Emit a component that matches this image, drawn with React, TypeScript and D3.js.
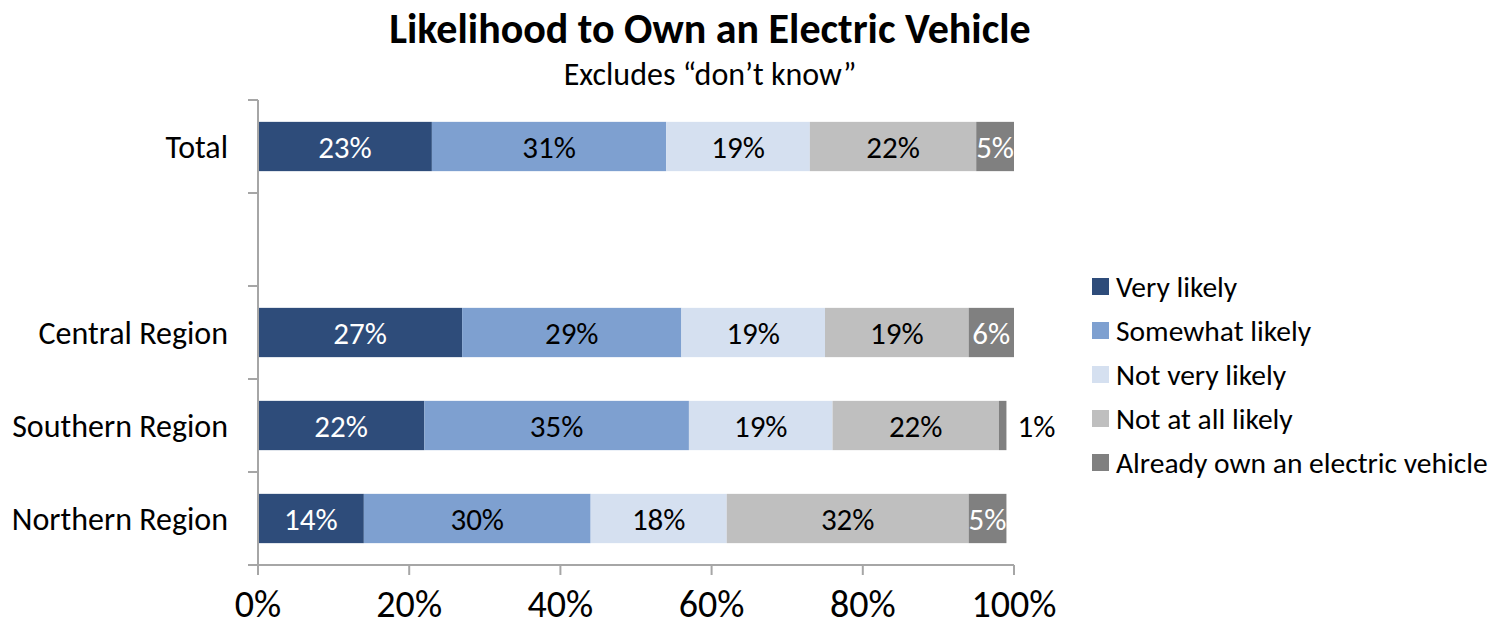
import React from "react";
import * as d3 from "d3";

const categories = ["Total", "", "Central Region", "Southern Region", "Northern Region"];
const seriesNames = ["Very likely", "Somewhat likely", "Not very likely", "Not at all likely", "Already own an electric vehicle"];
const veryLikely = [23, null, 27, 22, 14];
const somewhatLikely = [31, null, 29, 35, 30];
const notVeryLikely = [19, null, 19, 19, 18];
const notAtAllLikely = [22, null, 19, 22, 32];
const alreadyOwn = [5, null, 6, 1, 5];
const xTicks = [0, 20, 40, 60, 80, 100];

const colors = ["#2E4C7A", "#7EA0D0", "#D5E0F0", "#BFBFBF", "#808080"];
const labelColors = ["#fff", "#000", "#000", "#000", "#fff"];
const FONT = "Carlito, Calibri, Lato, 'Open Sans', sans-serif";

export default function App() {
  const W = 1488, H = 627;
  const x = d3.scaleLinear().domain([0, 100]).range([258, 1014]);
  const y = d3.scaleBand<string>().domain(categories).range([100, 565]).paddingInner(0.47).paddingOuter(0.235);
  const series = [veryLikely, somewhatLikely, notVeryLikely, notAtAllLikely, alreadyOwn];
  const step = y.step();
  const yTickPos = d3.range(categories.length + 1).map((i) => 100 + i * step);

  const bars: React.ReactNode[] = [];
  categories.forEach((c, ci) => {
    let acc = 0;
    series.forEach((s, si) => {
      const v = s[ci];
      if (v == null) return;
      const x0 = x(acc), x1 = x(acc + v);
      const yy = y(c)!;
      bars.push(<rect key={`r${ci}-${si}`} x={x0} y={yy} width={x1 - x0} height={y.bandwidth()} fill={colors[si]} />);
      const outside = v < 3;
      bars.push(
        <text key={`t${ci}-${si}`} x={outside ? x1 + 11 : (x0 + x1) / 2} y={yy + y.bandwidth() / 2} dy="0.36em"
          textAnchor={outside ? "start" : "middle"} fontSize={31} fill={outside ? "#000" : labelColors[si]}>{v}%</text>
      );
      acc += v;
    });
  });

  return (
    <svg width={W} height={H} style={{ position: "absolute", left: 0, top: 0 }} fontFamily={FONT}>
      <rect width={W} height={H} fill="#fff" />
      <text x={710} y={43} textAnchor="middle" fontSize={42} fontWeight="bold">Likelihood to Own an Electric Vehicle</text>
      <text x={710} y={85} textAnchor="middle" fontSize={32}>Excludes “don’t know”</text>
      {bars}
      <line x1={258} x2={258} y1={100} y2={575} stroke="#A6A6A6" strokeWidth={2} />
      {yTickPos.map((p, i) => (
        <line key={`yt${i}`} x1={248} x2={258} y1={p} y2={p} stroke="#A6A6A6" strokeWidth={2} />
      ))}
      <line x1={248} x2={1014} y1={565} y2={565} stroke="#A6A6A6" strokeWidth={2} />
      {xTicks.map((t) => (
        <g key={`xt${t}`}>
          <line x1={x(t)} x2={x(t)} y1={565} y2={575} stroke="#A6A6A6" strokeWidth={2} />
          <text x={x(t)} y={617} textAnchor="middle" fontSize={38}>{t}%</text>
        </g>
      ))}
      {categories.map((c) => c && (
        <text key={`c${c}`} x={228} y={y(c)! + y.bandwidth() / 2} dy="0.36em" textAnchor="end" fontSize={32}>{c}</text>
      ))}
      {seriesNames.map((n, i) => (
        <g key={`l${i}`} transform={`translate(1092, ${286 + i * 44})`}>
          <rect x={0} y={-8} width={17} height={17} fill={colors[i]} />
          <text x={24} y={0} dy="0.36em" fontSize={29.5}>{n}</text>
        </g>
      ))}
    </svg>
  );
}
